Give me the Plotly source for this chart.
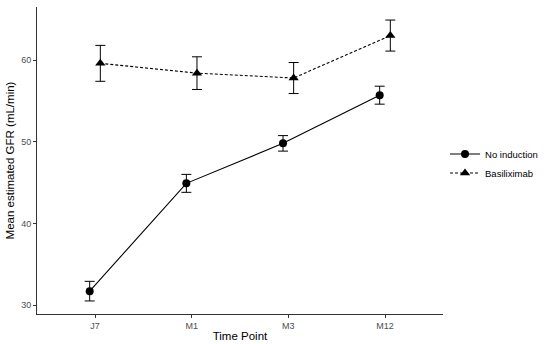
import plotly.graph_objects as go

time_points = ["J7", "M1", "M3", "M12"]
no_induction_mean = [31.7, 44.9, 49.8, 55.7]
no_induction_err = [1.2, 1.1, 0.95, 1.1]
basiliximab_mean = [59.6, 58.4, 57.8, 63.0]
basiliximab_err = [2.2, 2.0, 1.9, 1.9]
y_ticks = [30, 40, 50, 60]

dodge = 0.055
idx = list(range(len(time_points)))

fig = go.Figure()
fig.add_trace(go.Scatter(
    x=[i - dodge for i in idx], y=no_induction_mean, name="No induction",
    mode="lines+markers",
    line=dict(color="black", width=1.1),
    marker=dict(symbol="circle", size=8, color="black"),
    error_y=dict(type="data", array=no_induction_err, color="black", thickness=1, width=5),
))
fig.add_trace(go.Scatter(
    x=[i + dodge for i in idx], y=basiliximab_mean, name="Basiliximab",
    mode="lines+markers",
    line=dict(color="black", width=1.1, dash="3px,2px"),
    marker=dict(symbol="triangle-up", size=9, color="black"),
    error_y=dict(type="data", array=basiliximab_err, color="black", thickness=1, width=5),
))

fig.update_layout(
    width=550, height=344,
    margin=dict(l=37, r=95, t=7, b=30),
    plot_bgcolor="white", paper_bgcolor="white",
    font=dict(family="Liberation Sans, Arial, sans-serif", color="black"),
    showlegend=True,
    legend=dict(x=1.005, xanchor="left", y=0.49, yanchor="middle",
                font=dict(size=9.5, color="black"), bgcolor="rgba(0,0,0,0)",
                itemwidth=30, tracegroupgap=2),
    xaxis=dict(
        range=[-0.6, 3.6], tickvals=idx, ticktext=time_points, automargin=False,
        showgrid=False, zeroline=False, showline=True, linecolor="#333333", linewidth=1,
        ticks="outside", ticklen=3, tickcolor="#333333",
        tickfont=dict(size=9, color="#4D4D4D"),
        title=dict(text="Time Point", font=dict(size=11.5, color="black"), standoff=2),
    ),
    yaxis=dict(
        range=[28.9, 66.5], tickvals=y_ticks, automargin=False,
        showgrid=False, zeroline=False, showline=True, linecolor="#333333", linewidth=1,
        ticks="outside", ticklen=3, tickcolor="#333333",
        tickfont=dict(size=9, color="#4D4D4D"),
        title=dict(text="Mean estimated GFR (mL/min)", font=dict(size=11.5, color="black"), standoff=4),
    ),
)

fig.write_html("out.html", config={"displayModeBar": False},
               post_script="document.body.style.margin='0';")
